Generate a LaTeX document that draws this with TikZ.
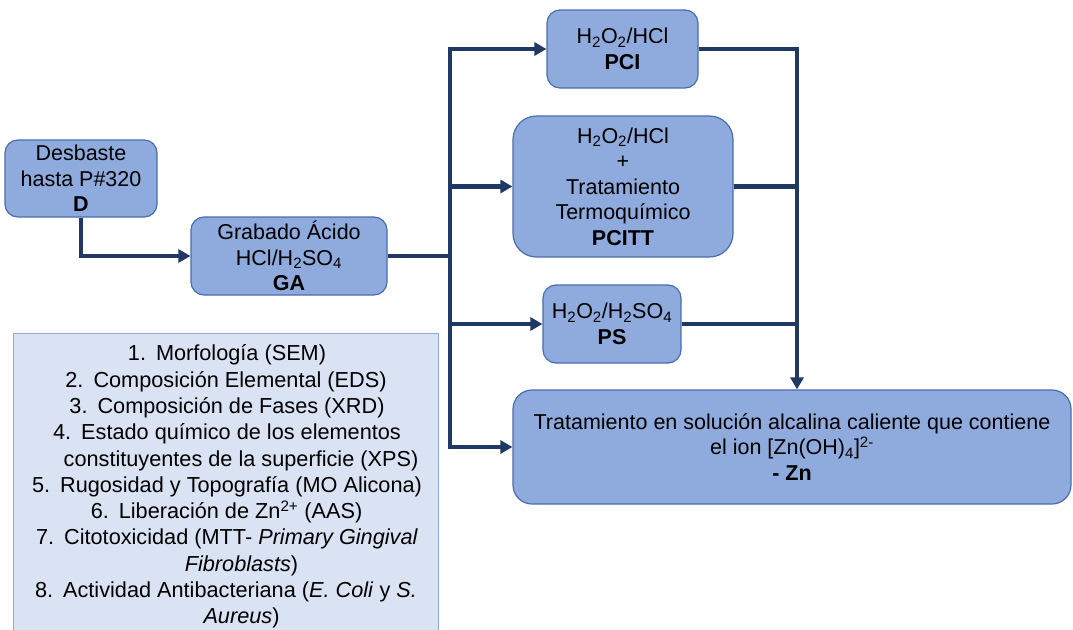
\documentclass[tikz,border=0pt]{standalone}
\usepackage{fontspec}
\setmainfont{Liberation Sans}
\usetikzlibrary{arrows.meta}
\definecolor{boxfill}{HTML}{8FAADC}
\definecolor{boxline}{HTML}{4A6DB0}
\definecolor{navy}{HTML}{203864}
\definecolor{legfill}{HTML}{DAE3F3}
\definecolor{legline}{HTML}{8FAADC}
\begin{document}
\begin{tikzpicture}[x=1pt,y=-1pt,
  stepbox/.style={draw=boxline, line width=1.2pt, fill=boxfill, align=center, inner sep=0pt, font=\fontsize{21.5}{25.5}\selectfont},
  flow/.style={draw=navy, line width=4.5pt, line join=miter},
  tip/.style={-{Triangle[length=12pt,width=13pt]}},
  bothtip/.style={{Triangle[length=12pt,width=13pt]}-{Triangle[length=12pt,width=13pt]}},
  legtext/.style={anchor=base, inner sep=0pt, font=\fontsize{21.7}{26}\selectfont}
]
\useasboundingbox[fill=white] (0,0) rectangle (1073,629);

% legend
\node[draw=legline, line width=1pt, fill=legfill, minimum width=425pt, minimum height=300pt, anchor=north west, inner sep=0pt] (leg) at (13,333) {};
\node[legtext] (l1) at (227,360.8) {1.\hspace{10pt}Morfología (SEM)};
\node[legtext] (l2) at (226,387.1) {2.\hspace{10pt}Composición Elemental (EDS)};
\node[legtext] (l3) at (227,413.4) {3.\hspace{10pt}Composición de Fases (XRD)};
\node[legtext] (l4) at (227,439.7) {4.\hspace{10pt}Estado químico de los elementos};
\node[legtext] (l5) at (241,466) {constituyentes de la superficie (XPS)};
\node[legtext] (l6) at (227,492.3) {5.\hspace{10pt}Rugosidad y Topografía (MO Alicona)};
\node[legtext] (l7) at (226.5,518.6) {6.\hspace{10pt}Liberación de Zn\textsuperscript{2+} (AAS)};
\node[legtext] (l8) at (227,544.9) {7.\hspace{10pt}Citotoxicidad (MTT- \textit{Primary Gingival}};
\node[legtext] (l9) at (241.5,571.2) {\textit{Fibroblasts})};
\node[legtext] (l10) at (226,597.5) {8.\hspace{10pt}Actividad Antibacteriana (\textit{E. Coli} y \textit{S.}};
\node[legtext] (l11) at (241.5,623.8) {\textit{Aureus})};

% process boxes
\node[stepbox, rounded corners=12.8pt, minimum width=152pt, minimum height=77pt] (D) at (81,178.5) {Desbaste\\hasta P\#320\\\textbf{D}};
\node[stepbox, rounded corners=13pt, minimum width=196pt, minimum height=78pt] (GA) at (289,256) {Grabado Ácido\\HCl/H\textsubscript{2}SO\textsubscript{4}\\\textbf{GA}};
\node[stepbox, rounded corners=13pt, minimum width=151pt, minimum height=78pt] (PCI) at (622.5,49) {H\textsubscript{2}O\textsubscript{2}/HCl\\\textbf{PCI}};
\node[stepbox, rounded corners=23.5pt, minimum width=220pt, minimum height=141pt] (PCITT) at (623,186.5) {H\textsubscript{2}O\textsubscript{2}/HCl\\+\\Tratamiento\\Termoquímico\\\textbf{PCITT}};
\node[stepbox, rounded corners=13pt, minimum width=138pt, minimum height=78pt] (PS) at (612,324) {H\textsubscript{2}O\textsubscript{2}/H\textsubscript{2}SO\textsubscript{4}\\\textbf{PS}};
\node[stepbox, rounded corners=19pt, minimum width=558pt, minimum height=114pt] (Zn) at (792,447) {Tratamiento en solución alcalina caliente que contiene\\el ion [Zn(OH)\textsubscript{4}]\textsuperscript{2-}\\\textbf{- Zn}};

\coordinate (trunk) at (450,0);
\coordinate (coll) at (797,0);

% connectors
\draw[flow, tip] (D.south) |- (GA.west);
\draw[flow] (GA.east) -- (trunk |- GA.east);
\draw[flow, bothtip] (PCI.west) -- (trunk |- PCI.west) -- (trunk |- Zn.west) -- (Zn.west);
\draw[flow, tip] (trunk |- PCITT.west) -- (PCITT.west);
\draw[flow, tip] (trunk |- PS.west) -- (PS.west);
\draw[flow, tip] (PCI.east) -- (coll |- PCI.east) -- (coll |- Zn.north);
\draw[flow] (PCITT.east) -- (coll |- PCITT.east);
\draw[flow] (PS.east) -- (coll |- PS.east);
\end{tikzpicture}
\end{document}
